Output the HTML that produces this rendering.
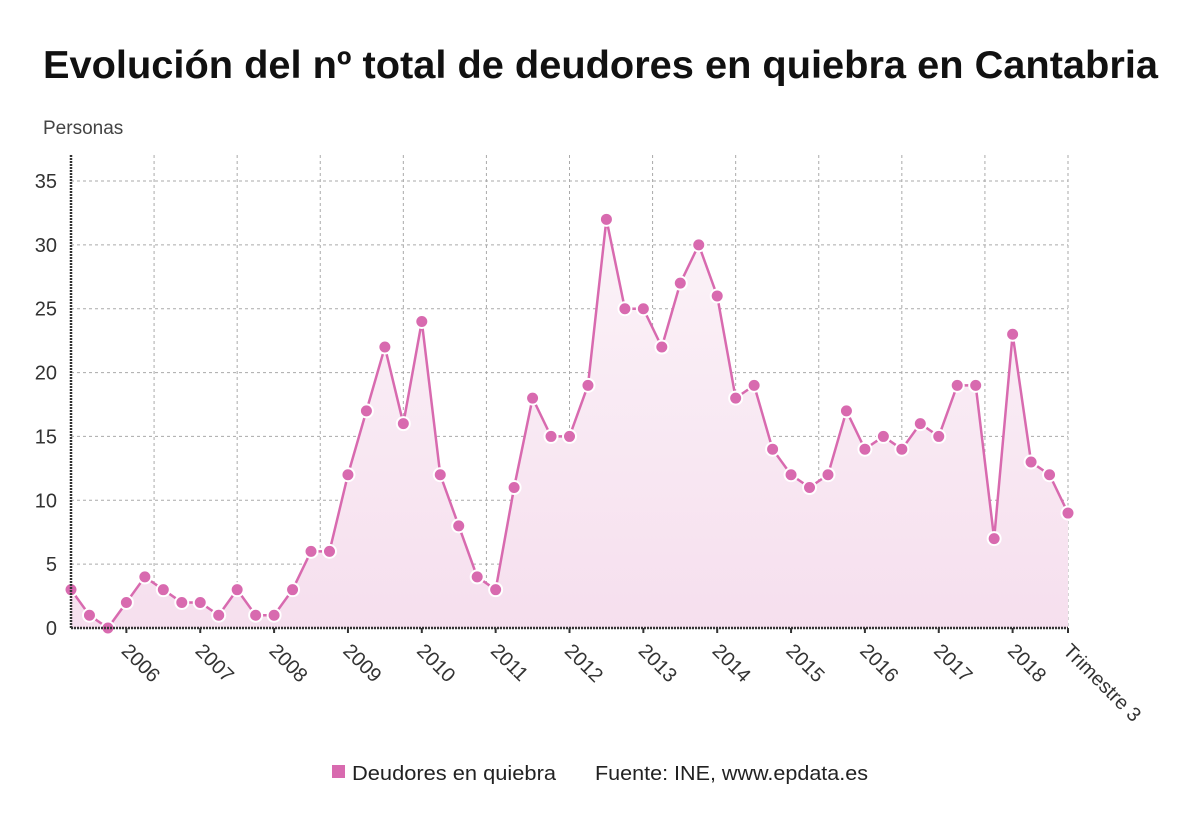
<!DOCTYPE html>
<html><head><meta charset="utf-8"><style>
body{margin:0;background:#fff;font-family:"Liberation Sans",sans-serif;}
</style></head><body>
<svg width="1200" height="808" xmlns="http://www.w3.org/2000/svg">
<defs><linearGradient id="g" x1="0" y1="0" x2="0" y2="1"><stop offset="0" stop-color="#fbf3f8"/><stop offset="1" stop-color="#f6dfee"/></linearGradient></defs>
<text x="43" y="78" textLength="1115" lengthAdjust="spacingAndGlyphs" font-size="39" font-weight="bold" fill="#111">Evolución del nº total de deudores en quiebra en Cantabria</text>
<text x="43" y="134" font-size="19" fill="#444">Personas</text>
<g id="grid"></g><g id="plot"></g><g id="axes"></g>
<g>
<rect x="332" y="765" width="13" height="13" fill="#d86aaf"/>
<text x="352" y="780" font-size="20" textLength="204" lengthAdjust="spacingAndGlyphs" fill="#222">Deudores en quiebra</text>
<text x="595" y="780" font-size="20" textLength="273" lengthAdjust="spacingAndGlyphs" fill="#222">Fuente: INE, www.epdata.es</text>
</g>
</svg>
<script>
const values=[3,1,0,2,4,3,2,2,1,3,1,1,3,6,6,12,17,22,16,24,12,8,4,3,11,18,15,15,19,32,25,25,22,27,30,26,18,19,14,12,11,12,17,14,15,14,16,15,19,19,7,23,13,12,9];
const yTicks=[0,5,10,15,20,25,30,35];
const xLabels=["2006","2007","2008","2009","2010","2011","2012","2013","2014","2015","2016","2017","2018"];
const lastLabel="Trimestre 3";
const NS="http://www.w3.org/2000/svg";
const x0=71,x1=1068,y0=628,yTop=181;
const X=i=>x0+i*(x1-x0)/(values.length-1);
const Y=v=>y0-v*(y0-yTop)/35;
function mk(t,a,p){const e=document.createElementNS(NS,t);for(const k in a)e.setAttribute(k,a[k]);p.appendChild(e);return e;}
const grid=document.getElementById('grid'),plot=document.getElementById('plot'),axes=document.getElementById('axes');
yTicks.forEach(v=>{
 const l=mk('line',{x1:x0,x2:x1,y1:Y(v),y2:Y(v),stroke:'#aaa','stroke-dasharray':'3,3'},grid);
 
 
 const t=mk('text',{x:57,y:Y(v)+7,'text-anchor':'end','font-size':20,fill:'#333'},axes);t.textContent=v;
 
 
});
const step=(x1-x0)/(values.length-1);
for(let k=0;k<12;k++){const gx=X(4.5)+k*4.5*step;
 const l=mk('line',{x1:gx,x2:gx,y1:155,y2:y0,stroke:'#aaa','stroke-dasharray':'3,3'},grid);
 
 }
let d='M'+X(0)+','+y0;values.forEach((v,i)=>d+=' L'+X(i)+','+Y(v));d+=' L'+X(values.length-1)+','+y0+'Z';
const area=mk('path',{d:d,fill:'url(#g)'},plot);


const line=mk('polyline',{points:values.map((v,i)=>X(i)+','+Y(v)).join(' '),fill:'none',stroke:'#d86aaf','stroke-width':2.5},plot);


values.forEach((v,i)=>{const c=mk('circle',{cx:X(i),cy:Y(v),r:6.5,fill:'#d86aaf',stroke:'#fff','stroke-width':2},plot);
 
 });
const ax=mk('line',{x1:x0,x2:x0,y1:155,y2:y0,stroke:'#333','stroke-width':2.5,'stroke-dasharray':'2,1'},axes);


const bx=mk('line',{x1:x0,x2:x1,y1:y0,y2:y0,stroke:'#333','stroke-width':2.5,'stroke-dasharray':'2,1'},axes);


const labs=xLabels.concat([lastLabel]);
labs.forEach((s,k)=>{const i=k<xLabels.length?3+4*k:values.length-1;const tx=X(i);
 const tk=mk('line',{x1:tx,x2:tx,y1:y0,y2:y0+5,stroke:'#333','stroke-width':2},axes);
 
 
 const t=mk('text',{x:tx-6,y:y0+24,'font-size':20,fill:'#333',transform:`rotate(45 ${tx-6} ${y0+24})`},axes);t.textContent=s;
 
 });
</script>
</body></html>
